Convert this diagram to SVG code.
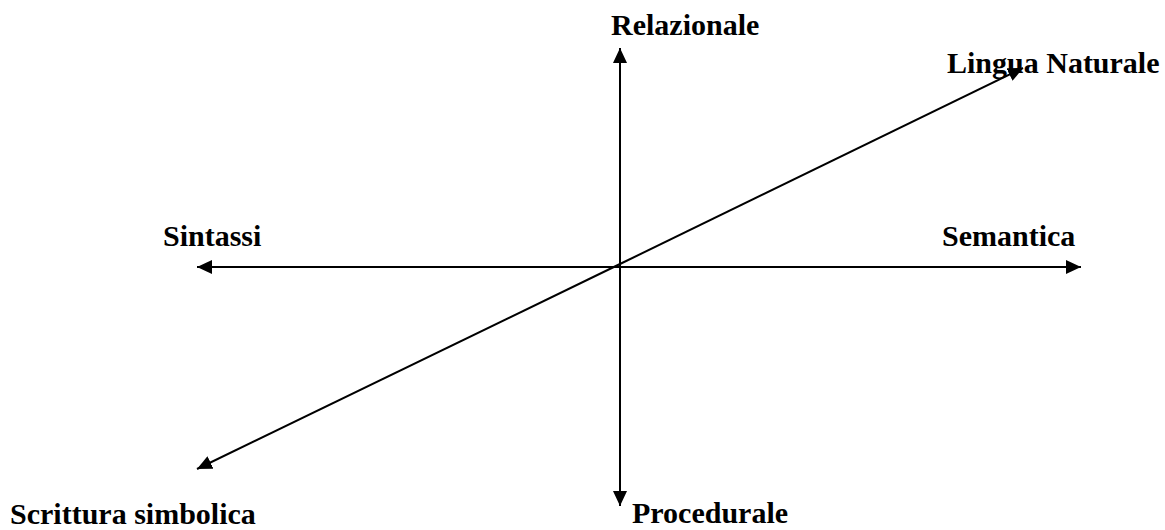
<svg xmlns="http://www.w3.org/2000/svg" width="1165" height="530" viewBox="0 0 1165 530">
<style>
.lbl{font-weight:bold;font-size:30px;fill:#000}
.ax{stroke:#000;stroke-width:2;fill:none;marker-end:url(#ah)}
</style>
<defs>
<marker id="ah" markerWidth="16" markerHeight="14" refX="15" refY="7" orient="auto" markerUnits="userSpaceOnUse">
<path d="M0,0 L15,7 L0,14 Z" fill="#000"/>
</marker>
</defs>
<rect width="1165" height="530" fill="#fff"/>
<g id="connectors">
<line class="ax" x1="620" y1="267" x2="620" y2="48"/>
<line class="ax" x1="620" y1="267" x2="620" y2="506"/>
<line class="ax" x1="620" y1="267" x2="197" y2="267"/>
<line class="ax" x1="620" y1="267" x2="1081" y2="267"/>
<line class="ax" x1="620" y1="264" x2="1023" y2="68"/>
<line class="ax" x1="620" y1="264" x2="197" y2="469"/>
</g>
<g font-family="'Liberation Serif', 'Times New Roman', 'DejaVu Serif', serif">
<g id="n-relazionale"><text class="lbl" x="611" y="35">Relazionale</text></g>
<g id="n-lingua"><text class="lbl" x="947" y="73">Lingua Naturale</text></g>
<g id="n-sintassi"><text class="lbl" x="163" y="246">Sintassi</text></g>
<g id="n-semantica"><text class="lbl" x="942" y="246">Semantica</text></g>
<g id="n-scrittura"><text class="lbl" x="10" y="524">Scrittura simbolica</text></g>
<g id="n-procedurale"><text class="lbl" x="632" y="523">Procedurale</text></g>
</g>
</svg>
